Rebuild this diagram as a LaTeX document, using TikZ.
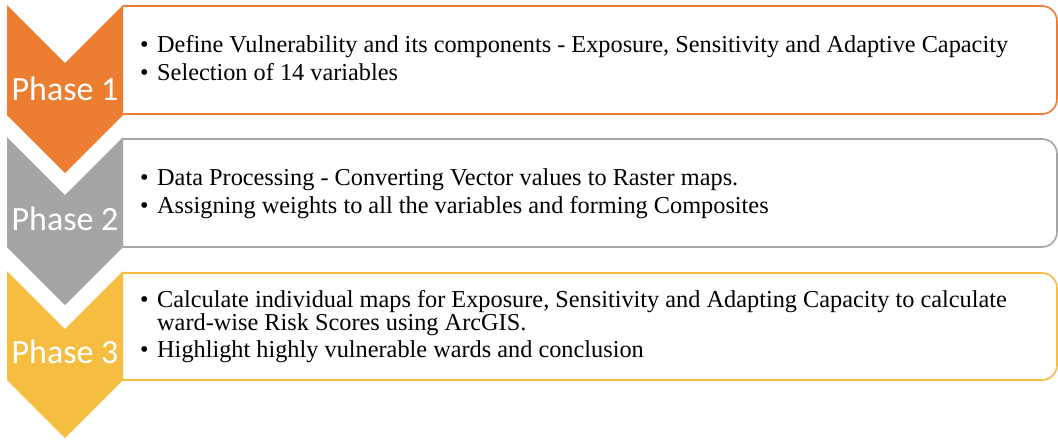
\documentclass[tikz,border=0pt]{standalone}
\usepackage{fontspec}
\setmainfont{Liberation Serif}
\newfontfamily\phasefont{Carlito}
\definecolor{orangeP}{HTML}{ED7D31}
\definecolor{grayP}{HTML}{A5A5A5}
\definecolor{goldP}{HTML}{F5BE41}
\begin{document}
\begin{tikzpicture}[x=1pt,y=-1pt,
  boxline/.style={line width=1.6pt, fill=white},
  phaselabel/.style={text=white, font=\phasefont\fontsize{34}{40}\selectfont, anchor=base, inner sep=0pt},
  itemtext/.style={font=\fontsize{24.3}{28}\selectfont, anchor=base west, inner sep=0pt},
  bul/.style={font=\fontsize{24.3}{28}\selectfont, anchor=base west, inner sep=0pt}]
\useasboundingbox (0,0) rectangle (1058,440);
% boxes
\draw[boxline, draw=orangeP] (123,6) -- (1042,6) arc[start angle=-90,end angle=0,radius=15] -- (1057,99) arc[start angle=0,end angle=90,radius=15] -- (123,114);
\draw[boxline, draw=grayP] (123,139) -- (1042,139) arc[start angle=-90,end angle=0,radius=15] -- (1057,232) arc[start angle=0,end angle=90,radius=15] -- (123,247);
\draw[boxline, draw=goldP] (123,273) -- (1042,273) arc[start angle=-90,end angle=0,radius=15] -- (1057,365) arc[start angle=0,end angle=90,radius=15] -- (123,380);
% chevrons
\fill[orangeP] (7,5) -- (65,63) -- (123,5) -- (123,115) -- (65,173) -- (7,115) -- cycle;
\fill[grayP] (7,137) -- (65,195) -- (123,137) -- (123,247) -- (65,305) -- (7,247) -- cycle;
\fill[goldP] (7,271) -- (65,329) -- (123,271) -- (123,380) -- (65,438) -- (7,380) -- cycle;
\node[phaselabel] (p1) at (65,100) {Phase 1};
\node[phaselabel] (p2) at (65,230) {Phase 2};
\node[phaselabel] (p3) at (65,363) {Phase 3};
% box 1 text
\node[bul] (b11) at (140,52) {•};
\node[itemtext] (t11) at (157,52) {Define Vulnerability and its components - Exposure, Sensitivity and Adaptive Capacity};
\node[bul] (b12) at (140,80) {•};
\node[itemtext] (t12) at (157,80) {Selection of 14 variables};
% box 2 text
\node[bul] (b21) at (140,185) {•};
\node[itemtext] (t21) at (157,185) {Data Processing - Converting Vector values to Raster maps.};
\node[bul] (b22) at (140,213) {•};
\node[itemtext] (t22) at (157,213) {Assigning weights to all the variables and forming Composites};
% box 3 text
\node[bul] (b31) at (140,307) {•};
\node[itemtext] (t31) at (157,307) {Calculate individual maps for Exposure, Sensitivity and Adapting Capacity to calculate};
\node[itemtext] (t31b) at (157,330) {ward-wise Risk Scores using ArcGIS.};
\node[bul] (b32) at (140,357) {•};
\node[itemtext] (t32) at (157,357) {Highlight highly vulnerable wards and conclusion};
\end{tikzpicture}
\end{document}
